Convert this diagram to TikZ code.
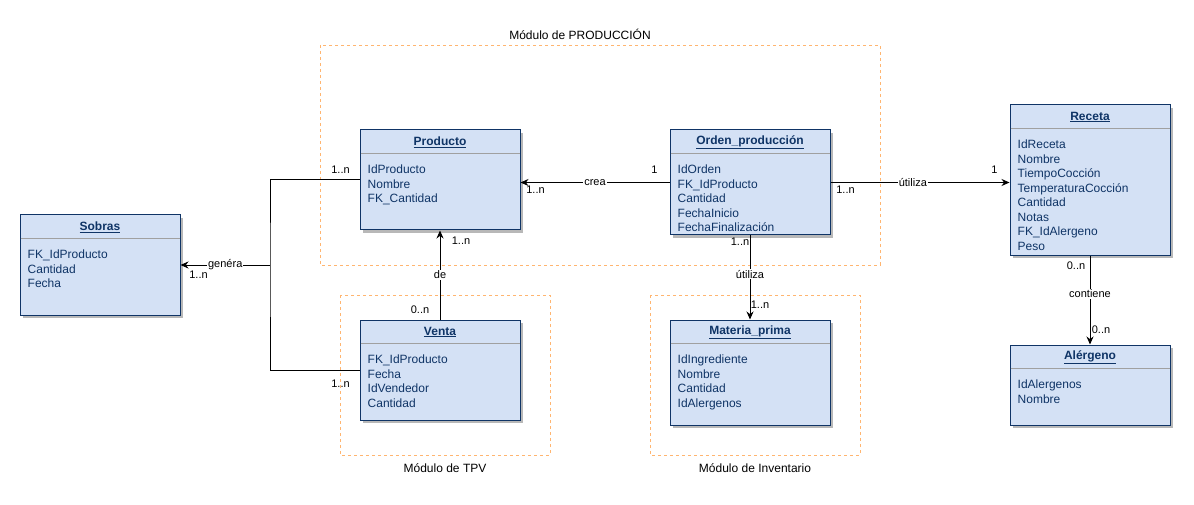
\documentclass[tikz,border=0pt]{standalone}
\usepackage{fontspec}
\setmainfont{Liberation Sans}
\usetikzlibrary{shadows,arrows.meta}
\definecolor{boxfill}{HTML}{D4E1F5}
\definecolor{boxline}{HTML}{0F3466}
\definecolor{sepline}{HTML}{A0A0A0}
\definecolor{modline}{HTML}{FFB570}

\begin{document}
\begin{tikzpicture}[%
            x=1pt, y=-1pt,
            >={Stealth[length=8pt,width=7pt]},
            classbox/.style={draw=boxline, fill=boxfill, line width=1pt,
                minimum width=160pt, inner sep=0pt,
                drop shadow={shadow xshift=3pt, shadow yshift=-3pt, fill=black!28, opacity=1}},
            title/.style={text=boxline, font=\fontsize{12}{14}\selectfont\bfseries, inner sep=0pt},
            attrs/.style={text=boxline, font=\fontsize{12}{14.5}\selectfont, align=left,
                anchor=north west, inner sep=0pt},
            sep/.style={draw=sepline, line width=1pt},
            conn/.style={draw=black, line width=1pt},
            lbl/.style={font=\fontsize{11}{13}\selectfont, inner sep=1pt},
            module/.style={draw=modline, line width=0.8pt, dash pattern=on 3pt off 3pt},
            modlbl/.style={font=\fontsize{12}{14}\selectfont}
            ]
            \useasboundingbox (0,0) rectangle (1194,505);

            % modules
            \draw[module] (320,45) rectangle (880,265);
            \draw[module] (340,295) rectangle (550,455);
            \draw[module] (650,295) rectangle (860,455);
            \node[modlbl] (modprod) at (580,34) {Módulo de PRODUCCIÓN};
            \node[modlbl] (modtpv) at (445,468) {Módulo de TPV};
            \node[modlbl] (modinv) at (755,468) {Módulo de Inventario};

            % classes
            \node[classbox, minimum height=100pt] (sobras) at (100,265) {};
            \node[classbox, minimum height=100pt] (producto) at (440,180) {};
            \node[classbox, minimum height=105pt] (orden) at (750,182.5) {};
            \node[classbox, minimum height=150pt] (receta) at (1090,180) {};
            \node[classbox, minimum height=100pt] (venta) at (440,370) {};
            \node[classbox, minimum height=105pt] (materia) at (750,372.5) {};
            \node[classbox, minimum height=80pt] (alergeno) at (1090,385) {};

            \foreach \c/\t in {sobras/Sobras, producto/Producto, orden/Orden\_producción,
                receta/Receta, venta/Venta, materia/Materia\_prima, alergeno/Alérgeno}{
                \node[title] at ([shift={(0,12.5)}]\c.north) {\underline{\t}};
                \draw[sep] ([shift={(1,24)}]\c.north west) -- ([shift={(-1,24)}]\c.north east);
            }

            \node[attrs] at ([shift={(8,35.5)}]sobras.north west) {FK\_IdProducto\\Cantidad\\Fecha};
            \node[attrs] at ([shift={(8,35.5)}]producto.north west) {IdProducto\\Nombre\\FK\_Cantidad};
            \node[attrs] at ([shift={(8,35.5)}]orden.north west) {IdOrden\\FK\_IdProducto\\Cantidad\\FechaInicio\\FechaFinalización};
            \node[attrs] at ([shift={(8,35.5)}]receta.north west) {IdReceta\\Nombre\\TiempoCocción\\TemperaturaCocción\\Cantidad\\Notas\\FK\_IdAlergeno\\Peso};
            \node[attrs] at ([shift={(8,35.5)}]venta.north west) {FK\_IdProducto\\Fecha\\IdVendedor\\Cantidad};
            \node[attrs] at ([shift={(8,35.5)}]materia.north west) {IdIngrediente\\Nombre\\Cantidad\\IdAlergenos};
            \node[attrs] at ([shift={(8,35.5)}]alergeno.north west) {IdAlergenos\\Nombre};

            % relations
            \coordinate (split) at (270,265);
            \draw[conn] (producto.west) -| (split) |- (venta.west);
            \draw[conn,->] (split) -- (sobras.east) node[lbl, fill=white, pos=0.5] {genéra};
            \draw[conn,->] (orden.west) -- (orden.west -| producto.east) node[lbl, fill=white, pos=0.5] {crea};
            \draw[conn,->] (orden.east) -- (orden.east -| receta.west) node[lbl, fill=white, pos=0.46] {útiliza};
            \draw[conn,->] (orden.south) -- (materia.north) node[lbl, fill=white, pos=0.46] {útiliza};
            \draw[conn,->] (venta.north) -- (producto.south) node[lbl, fill=white, pos=0.5] {de};
            \draw[conn,->] (receta.south) -- (alergeno.north) node[lbl, fill=white, pos=0.43] {contiene};

            % multiplicities
            \node[lbl] at ([shift={(-15,-12.5)}]orden.west) {1};
            \node[lbl] at ([shift={(15,7.5)}]producto.east |- orden.west) {1..n};
            \node[lbl] at ([shift={(15,7.5)}]orden.east) {1..n};
            \node[lbl] at ([shift={(-15,-12.5)}]receta.west |- orden.east) {1};
            \node[lbl] at ([shift={(-10,6)}]orden.south) {1..n};
            \node[lbl] at ([shift={(10,-15)}]materia.north) {1..n};
            \node[lbl] at ([shift={(-20,-10)}]venta.north) {0..n};
            \node[lbl] at ([shift={(21,10)}]producto.south) {1..n};
            \node[lbl] at ([shift={(-19,-10)}]producto.west) {1..n};
            \node[lbl] at ([shift={(-19,14)}]venta.west) {1..n};
            \node[lbl] at ([shift={(18,10)}]sobras.east) {1..n};
            \node[lbl] at ([shift={(-14,10)}]receta.south) {0..n};
            \node[lbl] at ([shift={(11,-15)}]alergeno.north) {0..n};

        \end{tikzpicture}
\end{document}
